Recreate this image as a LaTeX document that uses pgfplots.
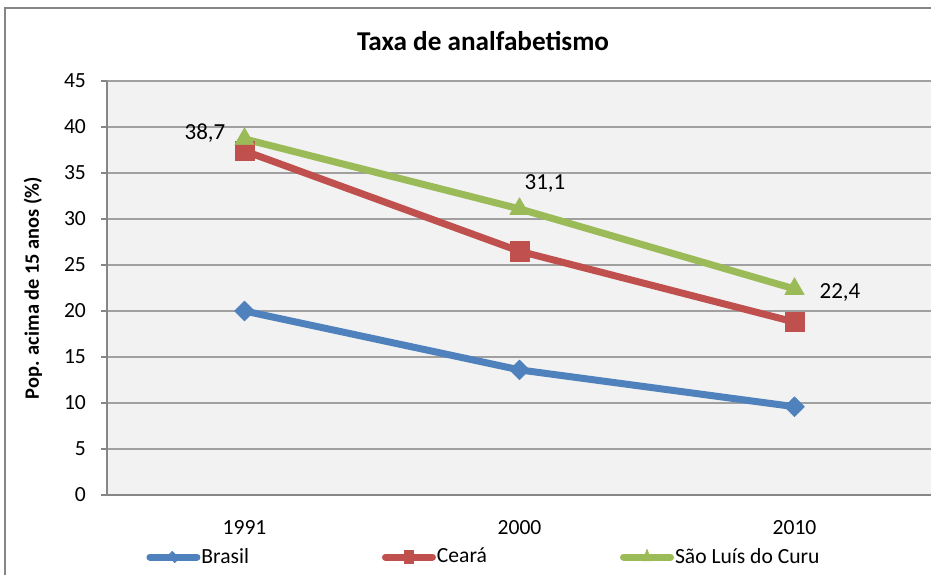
\documentclass[border=0pt]{standalone}
\usepackage{pgfplots}
\pgfplotsset{compat=1.18}
\usepackage{fontspec}
\setmainfont{Carlito}
\usetikzlibrary{calc}
\definecolor{cbrasil}{HTML}{4F81BD}
\definecolor{cceara}{HTML}{C0504D}
\definecolor{cslc}{HTML}{9BBB59}
\definecolor{bgc}{HTML}{F2F2F2}
\definecolor{gridc}{HTML}{A0A0A0}
\definecolor{axc}{HTML}{868686}

\begin{document}
\begin{tikzpicture}
\begin{axis}[
  scale only axis,
  width=412.5pt, height=207pt,
  xmin=-0.5, xmax=2.5, ymin=0, ymax=45,
  xtick={0,1,2}, xticklabels={1991,2000,2010},
  ytick={0,5,...,45},
  /pgf/number format/assume math mode=true,
  axis x line*=bottom, axis y line*=left,
  axis line style={axc, line width=0.7pt, -},
  axis background/.style={fill=bgc},
  ymajorgrids, grid style={gridc, line width=0.7pt},
  tick align=outside,
  major tick length=3pt,
  tick style={axc, line width=0.7pt},
  x tick style={draw=none},
  extra x ticks={-0.5,0.5,1.5,2.5},
  extra x tick labels={},
  extra x tick style={grid=none, major tick length=4pt, tick style={axc, draw=axc}},
  tick label style={font=\fontsize{10.8}{12}\selectfont, black},
  yticklabel style={xshift=-4pt},
  xticklabel style={yshift=-6pt},
  ylabel={Pop. acima de 15 anos (\%)},
  ylabel style={at={(axis description cs:-0.0897,0.5)}, anchor=center, font=\bfseries\fontsize{10.2}{12}\selectfont},
  title={Taxa de analfabetismo},
  title style={at={(axis description cs:0.4558,1.094)}, anchor=center, yshift=-5.5pt, font=\bfseries\fontsize{13.6}{16}\selectfont},
  every axis plot/.append style={line width=3.5pt, line cap=round, line join=round},
  legend columns=3,
  legend style={at={(axis description cs:0.0473,-0.1498)}, anchor=west, draw=none, fill=none,
    inner sep=0pt, font=\fontsize{10.8}{12}\selectfont,
    nodes={inner sep=0.5pt},
    /tikz/every even column/.append style={column sep=66pt}},
  legend image code/.code={\draw[#1, mark repeat=2, mark phase=2, every mark/.append style={xscale=0.45, yscale=0.7}] plot coordinates {(0pt,0pt) (11.75pt,0pt) (23.5pt,0pt)};},
]
\coordinate (ll) at (rel axis cs:0,0);
\addplot[cbrasil, mark=square*, mark size=3.5pt, mark options={solid, line width=0.3pt, rotate=45}] coordinates {(0,20.0) (1,13.6) (2,9.6)};
\addlegendentry{Brasil}
\addplot[cceara, mark=square*, mark size=4.8pt, mark options={solid, line width=0.3pt}] coordinates {(0,37.4) (1,26.5) (2,18.8)};
\addlegendentry{Ceará}
\addplot[cslc, mark=triangle*, mark size=5.6pt, mark options={solid, line width=0.3pt}] coordinates {(0,38.7) (1,31.1) (2,22.4)};
\addlegendentry{São Luís do Curu}
\node[font=\fontsize{11.5}{13}\selectfont] at (axis cs:-0.1436,39.35) {38,7};
\node[font=\fontsize{11.5}{13}\selectfont] at (axis cs:1.0927,33.9) {31,1};
\node[font=\fontsize{11.5}{13}\selectfont] at (axis cs:2.1655,21.96) {22,4};
\end{axis}
\draw[axc, line width=0.7pt] ($(ll)+(-51pt,-80pt)$) -- ($(ll)+(-51pt,243.5pt)$) -- ($(ll)+(500pt,243.5pt)$);
\pgfresetboundingbox
\useasboundingbox ($(ll)+(-53.5pt,-39.5pt)$) rectangle ($(ll)+(412pt,247.5pt)$);
\end{tikzpicture}
\end{document}
